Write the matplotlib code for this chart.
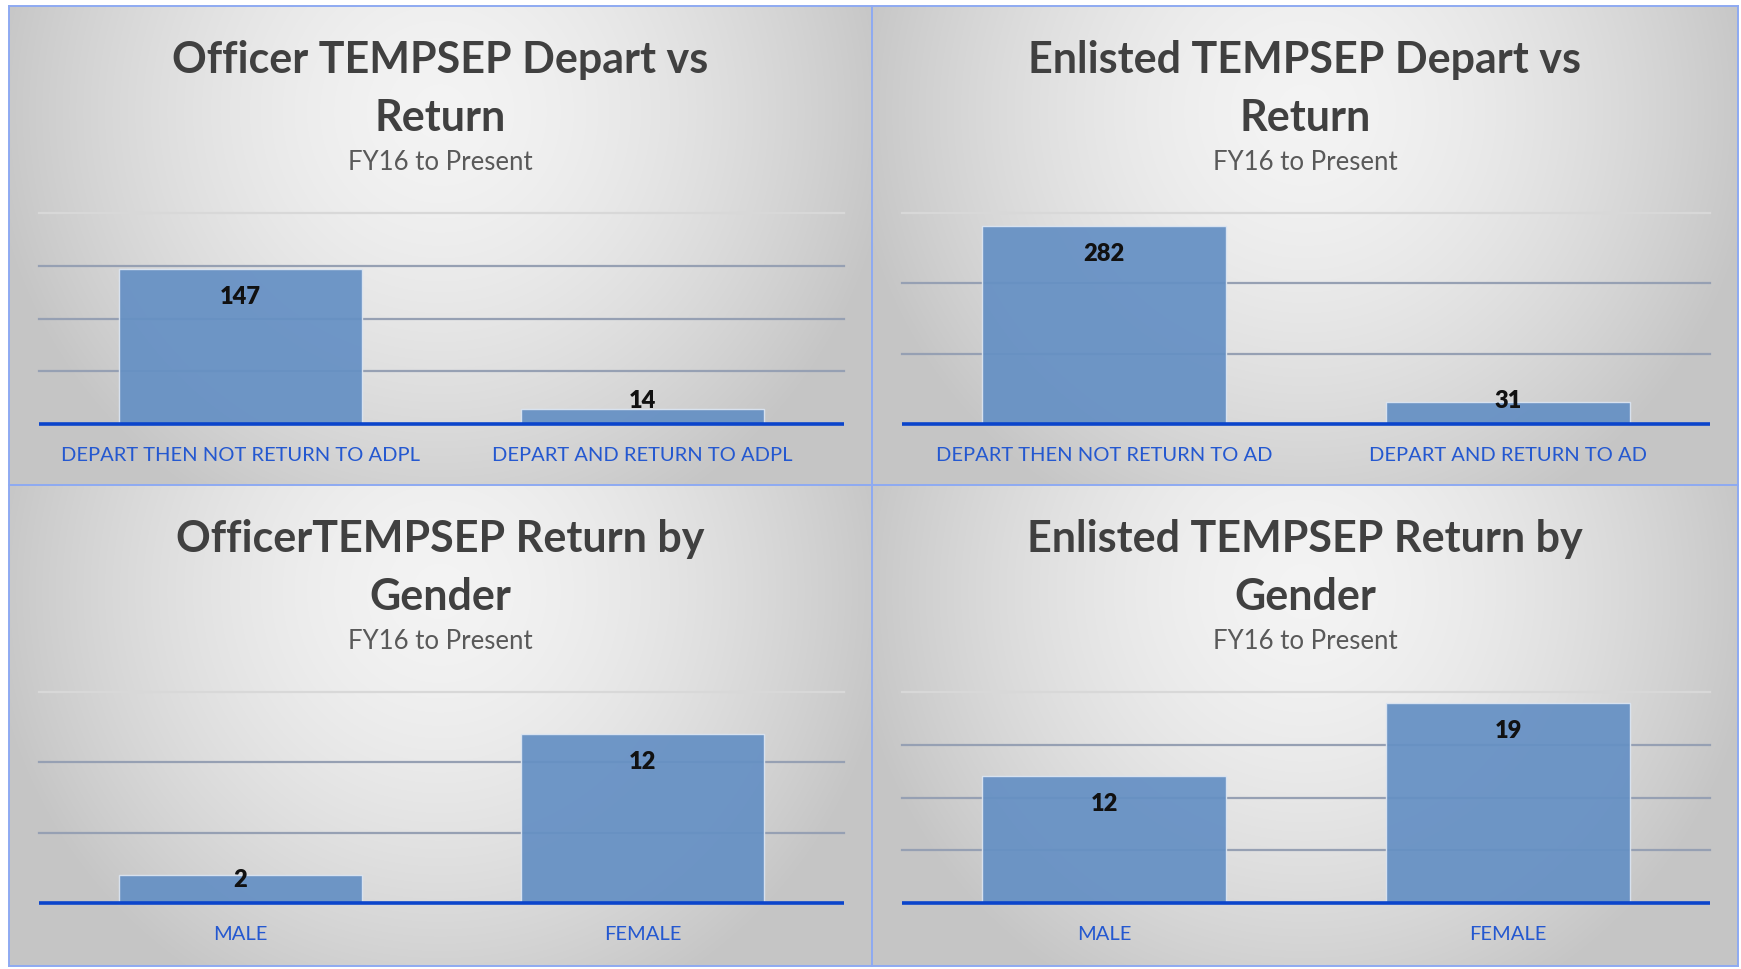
##
## === DEPENDENCIES
##

import matplotlib.pyplot as plt
import numpy

##
## === DATA
##

OFFICER_DEPART_LABELS = ["DEPART THEN NOT RETURN TO ADPL", "DEPART AND RETURN TO ADPL"]
OFFICER_DEPART_VALUES = [147, 14]
ENLISTED_DEPART_LABELS = ["DEPART THEN NOT RETURN TO AD", "DEPART AND RETURN TO AD"]
ENLISTED_DEPART_VALUES = [282, 31]
GENDER_LABELS = ["MALE", "FEMALE"]
OFFICER_GENDER_VALUES = [2, 12]
ENLISTED_GENDER_VALUES = [12, 19]
TITLES = [
    "Officer TEMPSEP Depart vs\nReturn",
    "Enlisted TEMPSEP Depart vs\nReturn",
    "OfficerTEMPSEP Return by\nGender",
    "Enlisted TEMPSEP Return by\nGender",
]
SUBTITLE = "FY16 to Present"
Y_MAX = [200, 300, 15, 20]
Y_STEP = [50, 100, 5, 5]

##
## === STYLE
##

W, H = 1741, 970
FONT = "Lato"
BAR_COLOR = "#6590C4"
AXIS_COLOR = "#0B45CB"
LABEL_COLOR = "#2458D0"
BORDER_COLOR = "#8EAAF2"
# panel boxes in pixels: left, top, right, bottom
PANELS = [
    (9, 7, 872, 486),
    (872, 7, 1738, 486),
    (9, 486, 872, 967),
    (872, 486, 1738, 967),
]


def fx(px):
    return px / W


def fy(px):
    return 1.0 - px / H


def gradient(nx=300, ny=200):
    x = numpy.linspace(-1.0, 1.0, nx)
    y = numpy.linspace(0.0, 1.0, ny)
    xx, yy = numpy.meshgrid(x, y)
    r = numpy.sqrt((xx / 1.05) ** 2 + ((yy - 0.22) / 0.95) ** 2)
    r = numpy.clip(r, 0.0, 1.0)
    light, dark = 0.955, 0.775
    v = light - (light - dark) * r ** 1.6
    return numpy.dstack([v, v, v])


def draw_panel(fig, box, title, labels, values, ymax, ystep):
    left, top, right, bottom = box
    bg = fig.add_axes([fx(left), fy(bottom), fx(right - left), (bottom - top) / H])
    bg.imshow(gradient(), aspect="auto", extent=(0, 1, 1, 0), interpolation="bilinear")
    bg.set_xticks([])
    bg.set_yticks([])
    for spine in bg.spines.values():
        spine.set_color(BORDER_COLOR)
        spine.set_linewidth(1.4)

    cx = fx((left + right) / 2)
    fig.text(cx, fy(top + 82), title, ha="center", va="center", fontsize=31,
             fontweight="bold", color="#404040", family=FONT, linespacing=1.57)
    fig.text(cx, fy(top + 156), SUBTITLE, ha="center", va="center", fontsize=18.5,
             color="#595959", family=FONT)

    ax_left, ax_right = left + 30, right - 28
    ax_top, ax_bottom = top + 207, top + 418
    ax = fig.add_axes([fx(ax_left), fy(ax_bottom), fx(ax_right - ax_left),
                       (ax_bottom - ax_top) / H])
    ax.set_facecolor("none")
    ax.set_xlim(-0.5, len(values) - 0.5)
    ax.set_ylim(0, ymax)
    for g in numpy.arange(ystep, ymax + 0.01, ystep):
        top_line = g >= ymax
        ax.axhline(g, color="#D8D8D8" if top_line else "#96A0B3",
                   lw=1.6, zorder=1, clip_on=False)
    x = numpy.arange(len(values))
    ax.bar(x, values, width=0.604, color=BAR_COLOR, edgecolor="#DDE6F2",
           linewidth=1.0, alpha=0.93, zorder=2)
    ax.axhline(0, color=AXIS_COLOR, lw=2.6, zorder=3, clip_on=False,
               solid_capstyle="butt")
    for s in ax.spines.values():
        s.set_visible(False)
    ax.set_xticks([])
    ax.set_yticks([])

    # data labels: near bar top inside, but never lower than a minimum height
    px_per_unit = (ax_bottom - ax_top) / ymax
    for xi, v in zip(x, values):
        h_px = v * px_per_unit
        y_px = max(h_px - 27, 24)
        ax.text(xi, y_px / px_per_unit, str(v), ha="center", va="center",
                fontsize=17, fontweight="heavy", color="#111111", family=FONT, zorder=4)
    for xi, lab in zip(x, labels):
        ax.annotate(lab, (xi, 0), xytext=(0, -22), textcoords="offset points",
                    ha="center", va="center", fontsize=14.5, color=LABEL_COLOR,
                    family=FONT)


##
## === MAIN
##


def main() -> None:
    fig = plt.figure(figsize=(W / 100, H / 100), dpi=100)
    fig.patch.set_facecolor("white")
    data = [
        (OFFICER_DEPART_LABELS, OFFICER_DEPART_VALUES),
        (ENLISTED_DEPART_LABELS, ENLISTED_DEPART_VALUES),
        (GENDER_LABELS, OFFICER_GENDER_VALUES),
        (GENDER_LABELS, ENLISTED_GENDER_VALUES),
    ]
    for box, title, (labels, values), ymax, ystep in zip(PANELS, TITLES, data, Y_MAX, Y_STEP):
        draw_panel(fig, box, title, labels, values, ymax, ystep)
    fig.savefig("out.png", dpi=100)


if __name__ == "__main__":
    main()
